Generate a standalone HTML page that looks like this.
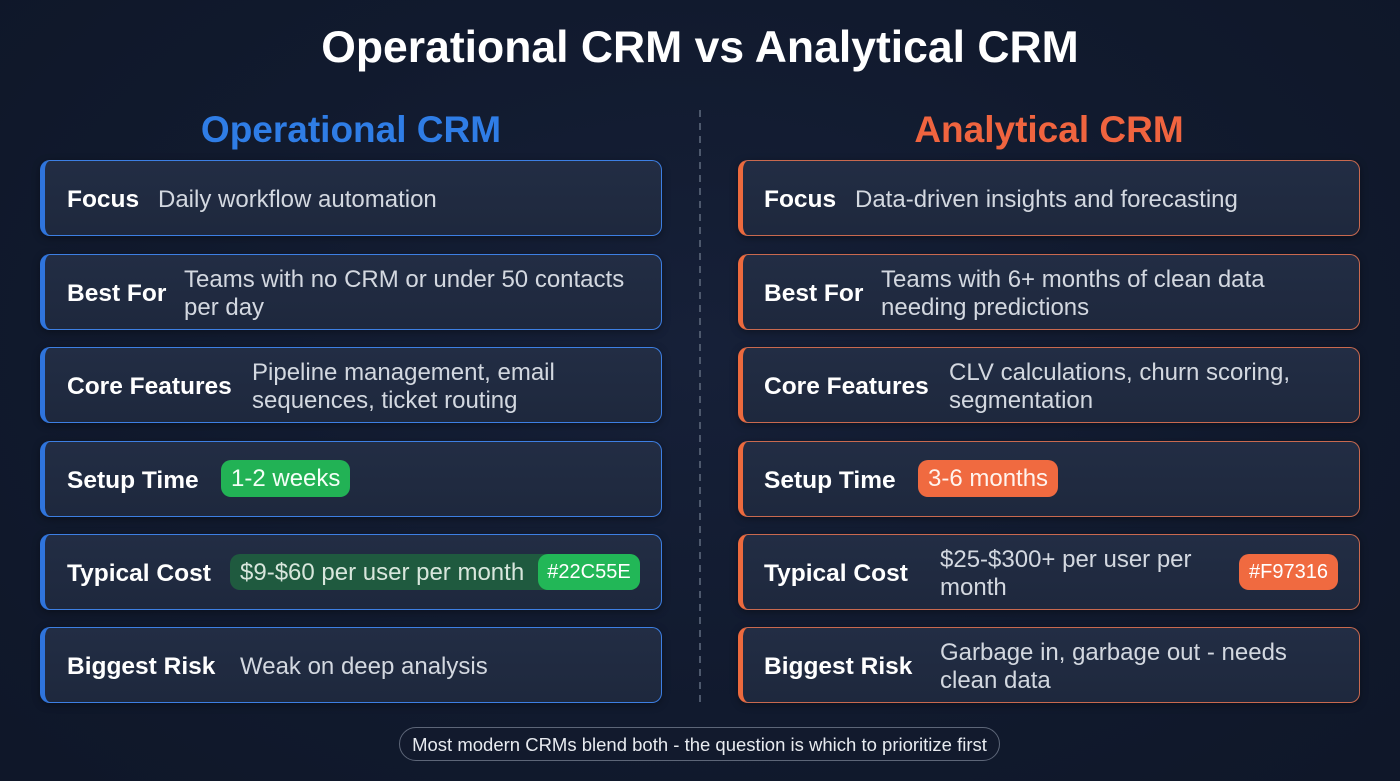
<!DOCTYPE html>
<html><head><meta charset="utf-8">
<style>
*{margin:0;padding:0;box-sizing:border-box}
html,body{width:1400px;height:781px;overflow:hidden}
body{background:radial-gradient(ellipse 900px 600px at 50% 45%,#162038 0%,#111a2e 60%,#0f1729 100%);font-family:"Liberation Sans",Arial,sans-serif;position:relative;color:#fff}
.abs{position:absolute}
.title{left:0;width:1400px;top:26px;height:44px;line-height:44px;text-align:center;font-weight:bold;font-size:44.5px;color:#fff}
.h{top:111px;height:38px;line-height:38px;text-align:center;font-weight:bold;font-size:37px;width:622px}
.row{position:absolute;left:0;width:1400px;height:76px}
.card{position:absolute;top:0;width:622px;height:76px;border-radius:10px;background:linear-gradient(180deg,#222d44 0%,#1e283d 100%);box-shadow:0 2px 8px rgba(0,0,0,.35)}
.cl{left:40px;border:1.5px solid #3d7fe3;border-left:5px solid #2f74dc}
.cr{left:738px;border:1.5px solid #c9694f;border-left:5px solid #ec6a3e}
.lab{position:absolute;top:0;height:76px;padding-top:3px;display:flex;align-items:center;font-weight:bold;font-size:24.5px;color:#fff;white-space:nowrap}
.val{position:absolute;top:0;height:76px;padding-top:3px;display:flex;align-items:center;font-size:24px;line-height:28px;color:#d3d8e0;white-space:nowrap}
.pill{position:absolute;height:37px;line-height:38px;font-size:24px;color:#f4fff7;border-radius:10px;padding:0 10px;white-space:nowrap}
.g{background:#22b255}
.o{background:#f06a40;color:#fff4ee}
.dg{background:#1f5a3f;color:#d8e6dc}
.tag{position:absolute;height:36px;line-height:37px;font-size:20px;text-align:center;border-radius:10px;color:#fff}
.foot{left:399px;top:727px;width:601px;height:34px;line-height:33px;border:1.5px solid #5d6678;border-radius:17px;text-align:center;font-size:18.5px;color:#e8ebf0;background:#121a2d}
</style></head><body>
<div class="abs title">Operational CRM vs Analytical CRM</div>
<div class="abs h" style="left:40px;color:#2f7de6">Operational CRM</div>
<div class="abs h" style="left:738px;color:#f0643f">Analytical CRM</div>
<svg class="abs" style="left:696px;top:105px" width="8" height="605"><line x1="4" y1="5" x2="4" y2="600" stroke="#4d586c" stroke-width="2" stroke-dasharray="7 6"/></svg>

<!-- Row 1 -->
<div class="row" style="top:160px">
  <div class="card cl"></div>
  <div class="lab" style="left:67px">Focus</div>
  <div class="val" style="left:158px">Daily workflow automation</div>
  <div class="card cr"></div>
  <div class="lab" style="left:764px">Focus</div>
  <div class="val" style="left:855px">Data-driven insights and forecasting</div>
</div>
<!-- Row 2 -->
<div class="row" style="top:254px">
  <div class="card cl"></div>
  <div class="lab" style="left:67px">Best For</div>
  <div class="val" style="left:184px">Teams with no CRM or under 50 contacts<br>per day</div>
  <div class="card cr"></div>
  <div class="lab" style="left:764px">Best For</div>
  <div class="val" style="left:881px">Teams with 6+ months of clean data<br>needing predictions</div>
</div>
<!-- Row 3 -->
<div class="row" style="top:347px">
  <div class="card cl"></div>
  <div class="lab" style="left:67px">Core Features</div>
  <div class="val" style="left:252px">Pipeline management, email<br>sequences, ticket routing</div>
  <div class="card cr"></div>
  <div class="lab" style="left:764px">Core Features</div>
  <div class="val" style="left:949px">CLV calculations, churn scoring,<br>segmentation</div>
</div>
<!-- Row 4 -->
<div class="row" style="top:441px">
  <div class="card cl"></div>
  <div class="lab" style="left:67px">Setup Time</div>
  <div class="pill g" style="left:221px;top:19px">1-2 weeks</div>
  <div class="card cr"></div>
  <div class="lab" style="left:764px">Setup Time</div>
  <div class="pill o" style="left:918px;top:19px">3-6 months</div>
</div>
<!-- Row 5 -->
<div class="row" style="top:534px">
  <div class="card cl"></div>
  <div class="lab" style="left:67px">Typical Cost</div>
  <div class="pill dg" style="left:230px;top:20px;width:410px;height:36px;line-height:37px">$9-$60 per user per month</div>
  <div class="tag" style="left:538px;top:20px;width:102px;background:#22b757">#22C55E</div>
  <div class="card cr"></div>
  <div class="lab" style="left:764px">Typical Cost</div>
  <div class="val" style="left:940px">$25-$300+ per user per<br>month</div>
  <div class="tag" style="left:1239px;top:20px;width:99px;background:#f06a40">#F97316</div>
</div>
<!-- Row 6 -->
<div class="row" style="top:627px">
  <div class="card cl"></div>
  <div class="lab" style="left:67px">Biggest Risk</div>
  <div class="val" style="left:240px">Weak on deep analysis</div>
  <div class="card cr"></div>
  <div class="lab" style="left:764px">Biggest Risk</div>
  <div class="val" style="left:940px">Garbage in, garbage out - needs<br>clean data</div>
</div>

<div class="abs foot">Most modern CRMs blend both - the question is which to prioritize first</div>
</body></html>
